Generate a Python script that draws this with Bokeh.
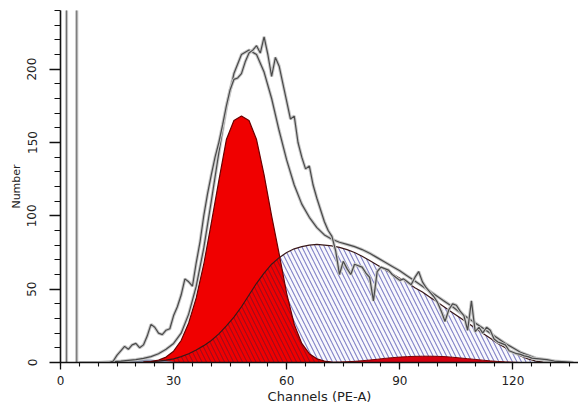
import numpy as np
from bokeh.plotting import figure
from bokeh.models import FixedTicker, Range1d
from bokeh.embed import file_html
from bokeh.resources import INLINE

# ---- data ----
comp_x = [22, 24, 26, 28, 30, 32, 34, 36, 38, 40,
          42, 44, 46, 48, 50, 52, 54, 56, 58, 60,
          62, 64, 66, 68, 70, 72, 74, 76, 78, 80,
          82, 84, 86, 88, 90, 92, 94, 96, 98, 100,
          102, 104, 106, 108, 110, 112, 114, 116, 118, 120,
          122, 124, 126, 128, 130]

g1 = [0.3, 0.7, 1.6, 3.7, 7.7, 15, 27, 44, 67, 95,
      124, 152, 165, 168, 165, 152, 128, 100, 74, 47,
      26, 13, 6, 2.5, 1, 0.3, 0, 0, 0, 0,
      0, 0, 0, 0, 0, 0, 0, 0, 0, 0,
      0, 0, 0, 0, 0, 0, 0, 0, 0, 0,
      0, 0, 0, 0, 0]

s_phase = [0.3, 0.6, 1, 1.6, 2.5, 4, 6, 8.5, 11.5, 15,
           19.5, 25, 31, 38, 46, 54, 61, 67, 71.5, 75,
           77.5, 79, 80, 80.5, 80, 79.5, 78.5, 77, 75, 72.5,
           69.5, 66.5, 63.5, 60.5, 57.5, 54.5, 51, 48, 44.5, 41,
           37.5, 34, 30.5, 27, 23.5, 20, 16.5, 13, 10, 7,
           4.5, 2.5, 1, 0.3, 0]

g2 = [0, 0, 0, 0, 0, 0, 0, 0, 0, 0,
      0, 0, 0, 0, 0, 0, 0, 0, 0, 0,
      0, 0, 0, 0, 0, 0, 0.3, 0.5, 0.8, 1.2,
      1.7, 2.2, 2.8, 3.3, 3.7, 4, 4.2, 4.3, 4.3, 4.2,
      4, 3.6, 3.1, 2.6, 2.1, 1.6, 1.1, 0.7, 0.4, 0.2,
      0, 0, 0, 0, 0]

debris_x = [12, 14, 16, 18, 20, 22, 24, 26, 28, 30]
debris_y = [0, 0.8, 1.5, 2, 2.3, 2.3, 2, 1.5, 1, 0.5]

model_x = [10, 12, 14, 16, 18, 20, 22, 24, 26, 28, 30, 32, 34, 36, 38, 40,
           42, 44, 46, 48, 50, 52, 54, 56, 58, 60, 62, 64, 66, 68, 70, 72,
           74, 76, 78, 80, 82, 84, 86, 88, 90, 92, 94, 96, 98, 100, 102, 104,
           106, 108, 110, 112, 114, 116, 118, 120, 122, 124, 126, 128, 130,
           132, 134, 136]
model_y = [0, 0.3, 0.6, 1, 1.5, 2, 2.8, 4, 6, 9, 13, 20, 33, 52, 78, 110,
           143, 174, 197, 210, 213, 210, 198, 180, 158, 138, 121, 108, 99, 92, 87, 84,
           82, 80.5, 79, 77, 74.5, 71.5, 68.5, 65.5, 62.5, 59, 55.5, 52, 48.5, 45, 41.5, 38,
           34, 30.5, 27, 23.5, 20, 16.5, 13, 10, 7, 5, 3, 2, 1.2,
           0.6, 0.3, 0]

data_x = [5, 13, 14, 15, 16, 17, 18, 19, 20, 21, 22, 23, 24, 25, 26, 27, 28, 29,
          30, 31, 32, 33, 34, 35, 36, 37, 38, 39, 40, 41, 42, 43, 44, 45, 46, 47,
          48, 49, 50, 51, 52, 53, 54, 55, 56, 57, 58, 59, 60, 61, 62, 63, 64, 65,
          66, 67, 68, 69, 70, 71, 72, 73, 74, 75, 76, 77, 78, 79, 80, 81, 82, 83,
          84, 85, 86, 87, 88, 89, 90, 91, 92, 93, 94, 95, 96, 97, 98, 99, 100, 101,
          102, 103, 104, 105, 106, 107, 108, 109, 110, 111, 112, 113, 114, 115, 116,
          117, 118, 119, 120, 121, 122, 123, 124, 125, 127, 129, 131, 133, 136]
data_y = [0, 0, 1, 5, 8, 11, 9, 12, 13, 10, 12, 18, 26, 24, 20, 19, 22, 23,
          32, 38, 46, 57, 55, 52, 68, 82, 100, 115, 128, 140, 150, 162, 175, 186, 193, 194,
          197, 205, 211, 213, 216, 211, 222, 210, 195, 208, 202, 190, 178, 166, 168, 150, 140, 132,
          134, 121, 112, 104, 96, 90, 86, 76, 60, 69, 64, 60, 67, 66, 65, 61, 58, 42,
          62, 65, 64, 63, 60, 58, 56, 57, 55, 53, 58, 62, 55, 51, 48, 45, 41, 35,
          28, 36, 40, 39, 35, 32, 22, 42, 21, 24, 20, 24, 22, 16, 14,
          13, 12, 8, 7, 6, 5.5, 4.5, 4, 3, 2.5, 2, 1, 0.6, 0]

offscale_x = [1.6, 1.6, 4.3, 4.3]
offscale_y = [0, 400, 400, 0]

x_major = [0, 30, 60, 90, 120]
x_minor = list(range(0, 140, 5))
y_major = [0, 50, 100, 150, 200]
y_minor = list(range(0, 241, 10))

# ---- figure ----
p = figure(width=578, height=408, output_backend="svg", toolbar_location=None,
           x_range=Range1d(0, 137.4), y_range=Range1d(0, 240),
           min_border_left=60, min_border_right=0, min_border_top=10, min_border_bottom=46)
p.outline_line_color = None
p.grid.visible = False
p.background_fill_color = "white"
p.border_fill_color = "white"

# S-phase (hatched)
p.varea(x=comp_x, y1=0, y2=s_phase, fill_color="#f8f8fd", fill_alpha=1.0,
        hatch_pattern="\\", hatch_color="#8282c6", hatch_scale=9, hatch_weight=1.1)
# G1 (red)
p.varea(x=comp_x, y1=0, y2=g1, fill_color="#f00000")
# overlap hatch (dark red lines)
overlap = np.minimum(np.array(g1), np.array(s_phase))
p.varea(x=comp_x, y1=0, y2=overlap, fill_alpha=0, hatch_pattern="\\",
        hatch_color="#a00a1a", hatch_scale=9, hatch_weight=1.1)
# G2 (red)
p.varea(x=comp_x, y1=0, y2=g2, fill_color="#d40010")
# debris near baseline
p.varea(x=debris_x, y1=0, y2=debris_y, fill_color="#8c94b0")

# outlines
p.line(comp_x, s_phase, line_color="#3a1818", line_width=1.2)
p.line(comp_x, g1, line_color="#6b0000", line_width=1.2)
p.line(comp_x, g2, line_color="#7a0000", line_width=1)

# model and data lines (dark line with grey halo)
for xs, ys in ((model_x, model_y), (data_x, data_y)):
    p.line(xs, ys, line_color="#c8c8c8", line_width=3.2)
    p.line(xs, ys, line_color="#4a4a4a", line_width=1.2)

# off-scale bar at the left
p.line(offscale_x, offscale_y, line_color="#c4c4c4", line_width=3.2)
p.line(offscale_x, offscale_y, line_color="#6e6e6e", line_width=1.0)

# axes
p.xaxis.ticker = FixedTicker(ticks=x_major, minor_ticks=x_minor)
p.yaxis.ticker = FixedTicker(ticks=y_major, minor_ticks=y_minor)
p.xaxis.axis_label = "Channels (PE-A)"
p.yaxis.axis_label = "Number"
for ax in (p.xaxis[0], p.yaxis[0]):
    ax.axis_line_color = "#111111"
    ax.axis_line_width = 1.6
    ax.major_tick_line_color = "#111111"
    ax.minor_tick_line_color = "#111111"
    ax.major_tick_line_width = 1.3
    ax.minor_tick_line_width = 1.1
    ax.major_tick_in = 0
    ax.minor_tick_in = 0
    ax.major_label_text_font = "DejaVu Sans"
    ax.major_label_text_font_size = "12px"
    ax.major_label_text_color = "#222222"
    ax.axis_label_text_font = "DejaVu Sans"
    ax.axis_label_text_font_style = "normal"
    ax.axis_label_text_color = "#222222"
p.xaxis.major_tick_out = 7
p.xaxis.minor_tick_out = 4
p.xaxis.major_label_standoff = 6
p.xaxis.axis_label_standoff = 1
p.xaxis.axis_label_text_font_size = "13px"
p.yaxis.major_tick_out = 11
p.yaxis.minor_tick_out = 6
p.yaxis.major_label_orientation = "vertical"
p.yaxis.major_label_standoff = 13
p.yaxis.axis_label_standoff = 2
p.yaxis.axis_label_text_font_size = "11px"

open("out.html", "w").write(file_html(p, INLINE))
